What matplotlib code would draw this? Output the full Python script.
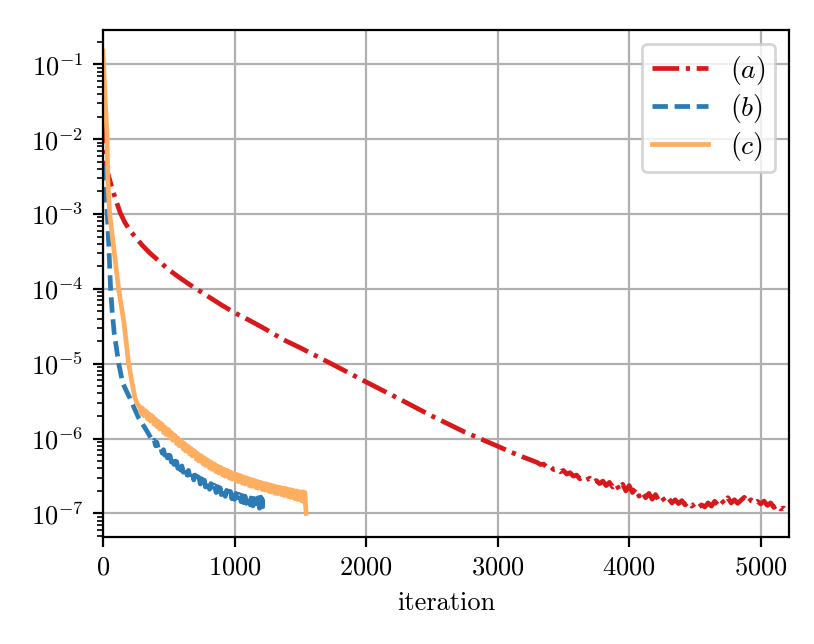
import numpy as np
import matplotlib
matplotlib.use("Agg")
import matplotlib.pyplot as plt
from matplotlib.ticker import LogLocator, NullFormatter

plt.rcParams['font.family'] = 'serif'
plt.rcParams['font.serif'] = ['cmr10', 'DejaVu Serif']
plt.rcParams['mathtext.fontset'] = 'cm'
plt.rcParams['axes.unicode_minus'] = False
plt.rcParams['axes.formatter.use_mathtext'] = True
plt.rcParams['font.size'] = 9.5
plt.rcParams['lines.scale_dashes'] = False

# (a) - red dash-dot
a_iter = [0, 10, 25, 50, 75, 100, 130, 165, 200, 250, 300, 357, 420, 500, 580, 662,
          800, 900, 1000, 1125, 1250, 1370, 1500, 1750, 2000, 2250, 2500, 2750,
          3000, 3100, 3200,
          3300, 3325, 3350, 3375, 3400, 3425, 3450, 3475, 3500, 3525, 3550, 3575,
          3600, 3625, 3650, 3675, 3700, 3725, 3750, 3775, 3800, 3825, 3850, 3875,
          3900, 3925, 3950, 3975, 4000, 4025, 4050, 4075, 4100, 4125, 4150, 4175,
          4200, 4225, 4250, 4275, 4300, 4325, 4350, 4375, 4400, 4425, 4450, 4475,
          4500, 4525, 4550, 4575, 4600, 4625, 4650, 4675, 4700, 4725, 4750, 4775,
          4800, 4825, 4850, 4875, 4900, 4925, 4950, 4975, 5000, 5025, 5050, 5075,
          5100, 5125, 5150, 5175, 5200, 5215]
a_head = [2e-2, 6e-3, 4.2e-3, 2.9e-3, 2.05e-3, 1.5e-3, 1.05e-3, 7.8e-4, 6.2e-4, 4.8e-4,
          3.8e-4, 3.0e-4, 2.4e-4, 1.8e-4, 1.42e-4, 1.13e-4, 7.9e-5, 6.1e-5, 4.8e-5,
          3.7e-5, 2.8e-5, 2.1e-5, 1.63e-5, 9.7e-6, 5.7e-6, 3.4e-6, 2.0e-6, 1.22e-6,
          7.9e-7, 6.6e-7, 5.6e-7]
a_tail = [4.8, 4.5, 4.55, 4.1, 4.25, 3.85, 3.95, 3.6, 3.75, 3.35, 3.5, 3.15,
          3.25, 2.9, 3.05, 2.8, 2.95, 2.6, 2.75, 2.5, 2.7, 2.35, 2.6, 2.25,
          2.5, 2.05, 2.45, 2.0, 2.35, 1.9, 2.15, 1.7, 1.95, 1.62, 1.85, 1.55,
          1.78, 1.48, 1.64, 1.42, 1.58, 1.38, 1.52, 1.35, 1.48, 1.3, 1.42, 1.25,
          1.35, 1.2, 1.3, 1.22, 1.38, 1.25, 1.45, 1.3, 1.5, 1.35, 1.62, 1.38,
          1.52, 1.36, 1.5, 1.64, 1.38, 1.52, 1.36, 1.45, 1.34, 1.46, 1.28, 1.38,
          1.2, 1.3, 1.15, 1.18, 1.06, 1.05]  # units of 1e-7

# (b) - blue dashed
b_iter = ([0, 10, 20, 33, 45, 58, 70, 85, 120, 150, 210, 270, 327, 367]
          + list(range(380, 1201, 10)) + [1205, 1210, 1215])
b_head = [4.5e-3, 2.8e-3, 1.8e-3, 1e-3, 3.5e-4, 1e-4, 5e-5, 2.6e-5, 1e-5, 5.5e-6,
          3.3e-6, 1.9e-6, 1.32e-6, 1e-6]
b_tail = [9.0, 9.5, 8.0, 8.9, 7.4, 7.9, 7.4, 6.4, 7.1, 6.0,
          6.7, 5.5, 6.0, 5.9, 4.85, 5.5, 4.5, 5.0, 4.9, 4.0,
          4.6, 3.8, 4.3, 3.55, 4.1, 3.9, 3.25, 3.75, 3.05, 3.5,
          3.45, 2.8, 3.25, 2.67, 3.1, 3.0, 2.47, 2.9, 2.36, 2.78,
          2.25, 2.65, 2.6, 2.1, 2.5, 2.02, 2.4, 2.35, 1.9, 2.28,
          1.83, 2.2, 1.78, 2.13, 2.1, 1.69, 2.03, 1.64, 1.98, 1.95,
          1.57, 1.9, 1.54, 1.85, 1.49, 1.8, 1.77, 1.43, 1.73, 1.39,
          1.7, 1.36, 1.66, 1.63, 1.3, 1.6, 1.26, 1.58, 1.22, 1.56,
          1.62, 1.17, 1.65,
          1.1, 1.55, 1.03]  # units of 1e-7

# (c) - orange solid
c_iter = ([0, 15, 30, 38, 51, 85, 119, 160, 195, 241, 260]
          + list(range(280, 1531, 10)) + [1535, 1540, 1545])
c_head = [1.5e-1, 4e-2, 1.2e-2, 2.5e-3, 1e-3, 3.2e-4, 1e-4, 3.5e-5, 1e-5,
          3.6e-6, 2.9e-6]
c_tail = [26.5, 21.5, 25.5, 20.2, 23.6, 23.0, 18.2, 21.4, 17.1, 20.2,
          19.6, 15.5, 18.2, 14.4, 17.0, 13.5, 15.9, 15.4, 12.1, 14.2,
          11.3, 13.4, 13.0, 10.2, 12.0, 9.5, 11.2, 10.8, 8.55, 10.1,
          8.0, 9.45, 9.1, 7.25, 8.55, 6.8, 8.0, 7.8, 6.2, 7.35,
          5.85, 6.9, 6.7, 5.3, 6.3, 5.0, 5.95, 5.8, 4.6, 5.5,
          4.37, 5.2, 5.05, 4.05, 4.85, 3.87, 4.62, 4.5, 3.6, 4.3,
          3.46, 4.15, 4.05, 3.25, 3.9, 3.13, 3.76, 3.7, 2.97, 3.56,
          2.87, 3.45, 3.4, 2.73, 3.3, 2.65, 3.2, 3.15, 2.54, 3.06,
          2.47, 2.98, 2.94, 2.37, 2.86, 2.3, 2.79, 2.75, 2.22, 2.69,
          2.17, 2.62, 2.59, 2.09, 2.53, 2.05, 2.48, 2.45, 1.97, 2.4,
          1.93, 2.35, 2.31, 1.86, 2.27, 1.83, 2.24, 2.2, 1.77, 2.17,
          1.73, 2.15, 2.1, 1.67, 2.08, 1.63, 2.05, 2.0, 1.57, 2.0,
          1.53, 1.95, 1.9, 1.47, 1.95, 1.42,
          1.9, 1.3, 1.0]  # units of 1e-7

a_vals = np.concatenate([a_head, np.array(a_tail) * 1e-7])
b_vals = np.concatenate([b_head, np.array(b_tail) * 1e-7])
c_vals = np.concatenate([c_head, np.array(c_tail) * 1e-7])

fig = plt.figure(figsize=(4.07, 3.22), dpi=200)
ax = fig.add_axes([0.1265, 0.1666, 0.9693 - 0.1265, 0.9534 - 0.1666])

ax.plot(a_iter, a_vals, color='#d7191c', lw=1.7, dashes=(9.6, 2.4, 1.5, 2.4), label='$(a)$')
ax.plot(b_iter, b_vals, color='#2c7bb6', lw=1.7, dashes=(5.55, 2.4), label='$(b)$')
ax.plot(c_iter, c_vals, '-', color='#fdae61', lw=1.7, label='$(c)$')

ax.set_yscale('log')
ax.set_xlim(0, 5215)
ax.set_xticks([0, 1000, 2000, 3000, 4000, 5000])
ax.set_yticks([1e-7, 1e-6, 1e-5, 1e-4, 1e-3, 1e-2, 1e-1])
ax.yaxis.set_minor_locator(LogLocator(base=10, subs=np.arange(2, 10), numticks=20))
ax.yaxis.set_minor_formatter(NullFormatter())
ax.set_ylim(4.88e-8, 0.287)
ax.grid(True, which='major', color='#b0b0b0', lw=0.8)
ax.set_xlabel('iteration')
ax.legend(loc='upper right', labelspacing=0.18, borderpad=0.35, fontsize=10)

fig.savefig('out.png', dpi=200)
